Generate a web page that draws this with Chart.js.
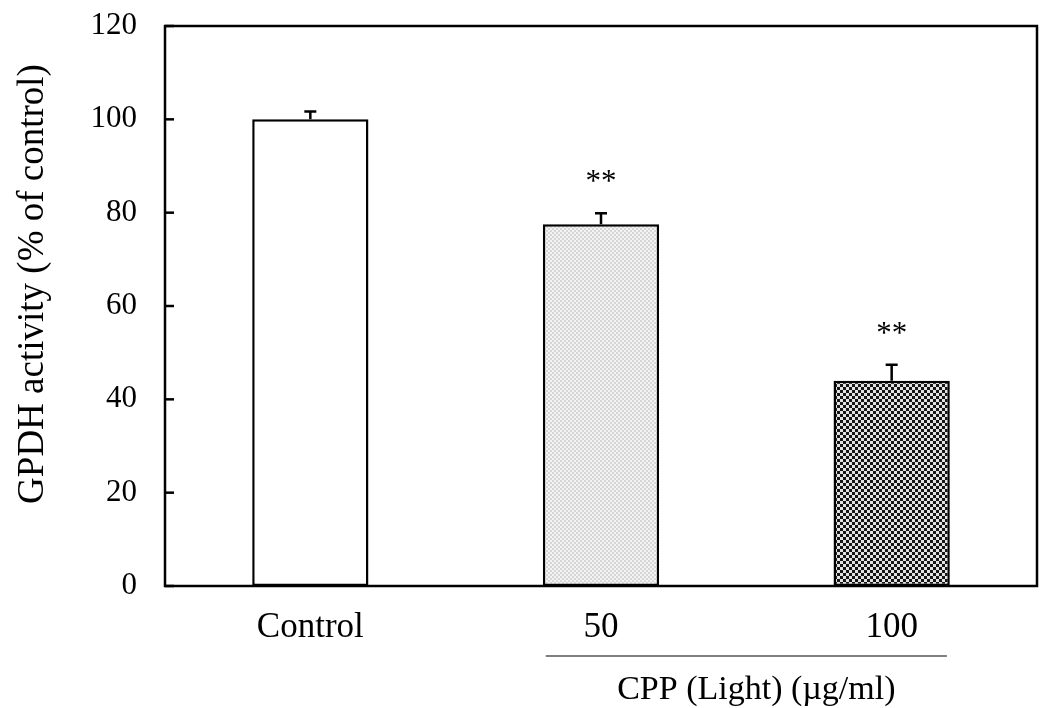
<!DOCTYPE html>
<html>
<head>
<meta charset="utf-8">
<title>GPDH activity</title>
<script src="https://cdn.jsdelivr.net/npm/chart.js@4.4.1/dist/chart.umd.min.js"></script>
<style>
  html, body { margin: 0; padding: 0; background: #fff; }
  #wrap { width: 1040px; height: 708px; }
</style>
</head>
<body>
<div id="wrap"><canvas id="gpdhChart" width="1040" height="708"></canvas></div>
<script>
// Groups and measured values (% of control)
const categories = ['Control', '50', '100'];
const activity = [100, 77.5, 44.0];
const errors = [1.7, 2.4, 3.4];
const stars = ['', '**', '**'];
const yTicks = [0, 20, 40, 60, 80, 100, 120];

const yTitle = 'GPDH activity (% of control)';
const groupTitle = 'CPP (Light) (\u00b5g/ml)';

const SERIF = "'Liberation Serif', 'Times New Roman', serif";

// Small checker tiles used as bar fills
function makeChecker(cell, colA, colB) {
  const c = document.createElement('canvas');
  c.width = cell * 2;
  c.height = cell * 2;
  const g = c.getContext('2d');
  g.fillStyle = colA;
  g.fillRect(0, 0, cell * 2, cell * 2);
  g.fillStyle = colB;
  g.fillRect(0, 0, cell, cell);
  g.fillRect(cell, cell, cell, cell);
  return g.createPattern(c, 'repeat');
}

const ctx = document.getElementById('gpdhChart').getContext('2d');
const fills = ['#ffffff', makeChecker(2, '#f3f3f3', '#d6d6d6'), makeChecker(3, '#e2e2e2', '#161616')];

// Frame, inward y ticks, error bars, significance marks and the group label
const decorations = {
  id: 'decorations',
  afterDatasetsDraw(chart) {
    const c = chart.ctx;
    const area = chart.chartArea;
    const x = chart.scales.x;
    const y = chart.scales.y;

    c.save();
    c.strokeStyle = '#000';
    c.lineWidth = 2.5;

    // error bars (upper half only)
    activity.forEach((v, i) => {
      const cx = x.getPixelForValue(i);
      const top = y.getPixelForValue(v + errors[i]);
      c.beginPath();
      c.moveTo(cx, y.getPixelForValue(v));
      c.lineTo(cx, top);
      c.moveTo(cx - 6, top);
      c.lineTo(cx + 6, top);
      c.stroke();

      if (stars[i]) {
        c.fillStyle = '#000';
        c.font = '31px ' + SERIF;
        c.textAlign = 'center';
        c.textBaseline = 'alphabetic';
        c.fillText(stars[i], cx, top - 22);
      }
    });

    // plot frame
    c.strokeRect(area.left, area.top, area.right - area.left, area.bottom - area.top);

    // tick marks pointing into the plot
    yTicks.forEach(t => {
      const py = y.getPixelForValue(t);
      c.beginPath();
      c.moveTo(area.left, py);
      c.lineTo(area.left + 9, py);
      c.stroke();
    });

    // bracket line under the CPP doses
    const spacing = x.getPixelForValue(1) - x.getPixelForValue(0);
    const x1 = x.getPixelForValue(1) - spacing * 0.19;
    const x2 = x.getPixelForValue(2) + spacing * 0.19;
    c.lineWidth = 1.2;
    c.beginPath();
    c.moveTo(x1, 656);
    c.lineTo(x2, 656);
    c.stroke();

    c.fillStyle = '#000';
    c.font = '34px ' + SERIF;
    c.textAlign = 'center';
    c.textBaseline = 'middle';
    c.fillText(groupTitle, (x1 + x2) / 2 + 10, 690);

    // y axis title
    c.font = '37px ' + SERIF;
    c.translate(33, 284);
    c.rotate(-Math.PI / 2);
    c.fillText(yTitle, 0, 0);
    c.restore();
  }
};

new Chart(ctx, {
  type: 'bar',
  data: {
    labels: categories,
    datasets: [{
      data: activity,
      backgroundColor: fills,
      borderColor: '#000',
      borderWidth: 2.5,
      borderSkipped: false,
      categoryPercentage: 1.0,
      barPercentage: 0.4
    }]
  },
  options: {
    responsive: false,
    animation: false,
    layout: { padding: { top: 26, right: 3, left: 0, bottom: 0 } },
    plugins: {
      legend: { display: false },
      tooltip: { enabled: false }
    },
    scales: {
      x: {
        grid: { display: false, drawTicks: false },
        border: { display: false },
        ticks: {
          color: '#000',
          padding: 21,
          font: { family: SERIF, size: 35 }
        },
        afterFit(scale) {
          scale.height = 122;
          scale.paddingLeft = 0;
          scale.paddingRight = 0;
        }
      },
      y: {
        min: 0,
        max: 120,
        grid: { display: false, drawTicks: false },
        border: { display: false },
        afterBuildTicks(scale) { scale.ticks = yTicks.map(v => ({ value: v })); },
        ticks: {
          color: '#000',
          padding: 28,
          font: { family: SERIF, size: 31 }
        },
        afterFit(scale) {
          scale.width = 165;
          scale.paddingTop = 0;
          scale.paddingBottom = 0;
        }
      }
    }
  },
  plugins: [decorations]
});
</script>
</body>
</html>
